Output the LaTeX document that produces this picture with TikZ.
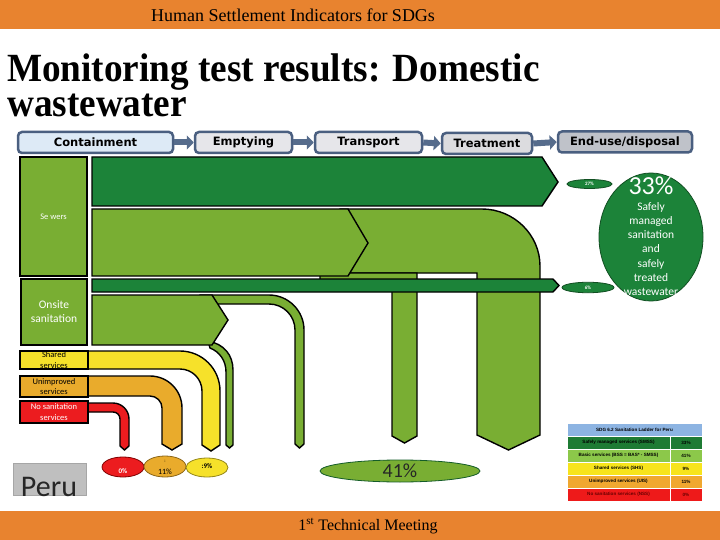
\documentclass[tikz,border=0pt]{standalone}
\usepackage{fontspec}
\setmainfont{Liberation Serif}
\newfontfamily\calib{Carlito}
\newfontfamily\verd{DejaVu Sans}
\newfontfamily\arl{Liberation Sans}
\usetikzlibrary{shapes.geometric,arrows.meta}
\definecolor{orangebar}{HTML}{E8832F}
\definecolor{dkgreen}{HTML}{1C8339}
\definecolor{ltgreen}{HTML}{79AE33}
\definecolor{yel}{HTML}{F6E12A}
\definecolor{amber}{HTML}{E9AB2C}
\definecolor{redc}{HTML}{EC1C1F}
\definecolor{hdrborder}{HTML}{4A5F80}
\definecolor{hdrarrow}{HTML}{566C8C}
\definecolor{hdrblue}{HTML}{DDEAF6}
\definecolor{hdrgray}{HTML}{E6E6EA}
\definecolor{hdrdark}{HTML}{BFC2C9}
\definecolor{lgblue}{HTML}{8DB4E2}
\definecolor{lggreen}{HTML}{1E7B34}
\definecolor{lglight}{HTML}{8CC84A}
\definecolor{lgyel}{HTML}{F7E41C}
\definecolor{lgorange}{HTML}{F0A830}
\definecolor{lgred}{HTML}{EE1A1A}
\begin{document}
\begin{tikzpicture}[x=1pt,y=-1pt,
  hdr/.style={draw=hdrborder, line width=2.5pt, rounded corners=4pt, inner sep=0pt,
    minimum height=21pt, font=\verd\bfseries\fontsize{11.5}{13}\selectfont},
  harrow/.style={draw=hdrarrow, line width=6pt, -{Triangle[length=7pt,width=14pt]}},
  flow/.style={draw=black, line width=1.4pt, line join=miter},
  lbl/.style={draw=black, line width=1.4pt, inner sep=0pt, align=center,
    font=\calib\fontsize{8.5}{10.5}\selectfont},
  ell/.style={ellipse, inner sep=0pt, line width=0.8pt},
  cell/.style={draw=white, line width=0.6pt, inner sep=0pt, minimum height=13pt,
    font=\arl\bfseries\fontsize{4.6}{5}\selectfont}
]
\useasboundingbox (0,0) rectangle (720,540);
\fill[white] (0,0) rectangle (720,540);
% bars
\fill[orangebar] (0,0) rectangle (720,29);
\fill[orangebar] (0,511) rectangle (720,540);
\node[font=\fontsize{18}{20}\selectfont] (hdrtxt) at (293,15) {Human Settlement Indicators for SDGs};
\node[font=\fontsize{16}{18}\selectfont] (foot) at (368,526) {1\textsuperscript{st} Technical Meeting};
% title
\node[anchor=base west, inner sep=0pt, font=\bfseries\fontsize{40}{40}\selectfont] (title) at (7,82)
  {\vtop{\baselineskip=34.5pt\lineskiplimit=-100pt
    \hbox{\scalebox{0.93}[1]{Monitoring test results: Domestic}}
    \hbox{\scalebox{0.93}[1]{wastewater}}}};
% header boxes
\node[hdr, fill=hdrblue, minimum width=155pt] (cont) at (95.5,142.5) {Containment};
\node[hdr, fill=hdrgray, minimum width=97pt] (empt) at (243.5,142.5) {Emptying};
\node[hdr, fill=hdrgray, minimum width=107pt] (trans) at (368.5,142.5) {Transport};
\node[hdr, fill=hdrgray!90!gray, minimum width=90pt] (treat) at (487,143.5) {Treatment};
\node[hdr, fill=hdrdark, minimum width=134pt] (enduse) at (625,142) {End-use/disposal};
\draw[harrow] (cont.east) -- (empt.west);
\draw[harrow] (empt.east) -- (trans.west);
\draw[harrow] (trans.east) -- (treat.west);
\draw[harrow] (treat.east) -- (enduse.west);
% big bent pipe (sewer to transport)
\draw[flow, fill=ltgreen] (340,209) -- (482,209) .. controls (513.5,209) and (540,234.5) .. (540,266)
  -- (540,435) -- (508.5,450) -- (477,435) -- (477,273) -- (340,273) -- cycle;
% L pipe to 41%
\draw[flow, fill=ltgreen] (320,273) -- (417,273) -- (417,436) -- (404.5,443) -- (392,436)
  -- (392,280) -- (320,280) -- cycle;
% sewer chevron
\draw[flow, fill=ltgreen] (92,209) -- (348,209) -- (368,243) -- (348,276) -- (92,276) -- cycle;
% dark green treated sewer arrow
\draw[flow, fill=dkgreen] (92,157) -- (542,157) -- (558,182) -- (542,206) -- (92,206) -- cycle;
% dark green 6% bar
\draw[flow, fill=dkgreen] (92,279) -- (553,279) -- (559,285.5) -- (553,292) -- (92,292) -- cycle;
% thin onsite pipe
\draw[flow, fill=ltgreen] (200,295) -- (269,295) .. controls (288.3,295) and (304,310.7) .. (304,330)
  -- (304,444) -- (299.5,448) -- (295,444) -- (295,330)
  .. controls (295,315.6) and (283.4,304) .. (269,304) -- (200,304) -- cycle;
% small curved pipe
\draw[flow, fill=ltgreen] (208,341) .. controls (224,344) and (233,355) .. (233,370) -- (233,445)
  -- (229.5,448) -- (226,445) -- (226,372) .. controls (226,361) and (220,352) .. (210,348) -- cycle;
% onsite chevron
\draw[flow, fill=ltgreen] (92,295) -- (212,295) -- (228,320) -- (212,345) -- (92,345) -- cycle;
% yellow pipe
\draw[flow, fill=yel] (86,351) -- (180,351) .. controls (202.1,351) and (220,368.9) .. (220,391)
  -- (220,445) -- (211,451) -- (202,445) -- (202,391)
  .. controls (202,378.9) and (192.1,369) .. (180,369) -- (86,369) -- cycle;
% amber pipe
\draw[flow, fill=amber] (86,376) -- (150,376) .. controls (167.7,376) and (182,390.3) .. (182,408)
  -- (182,444) -- (172,450) -- (162,444) -- (162,408)
  .. controls (162,401.4) and (156.6,396) .. (150,396) -- (86,396) -- cycle;
% red pipe
\draw[flow, fill=redc] (86,403) -- (113,403) .. controls (121.8,403) and (129,410.2) .. (129,419)
  -- (129,446) -- (124.5,450) -- (120,446) -- (120,419)
  .. controls (120,415.1) and (116.9,412) .. (113,412) -- (86,412) -- cycle;
% label boxes
\node[lbl, fill=ltgreen, text=white, minimum width=67pt, minimum height=119pt] (sew) at (53.5,216.5) {Se wers};
\node[lbl, fill=ltgreen, text=white, minimum width=66pt, minimum height=66pt,
  font=\calib\fontsize{11.5}{14}\selectfont] (onsite) at (54,312) {Onsite\\sanitation};
\node[lbl, fill=yel, text=black, minimum width=68pt, minimum height=18pt] (shared) at (54,360) {Shared\\services};
\node[lbl, fill=amber, text=black, minimum width=68pt, minimum height=21pt] (unimp) at (54,386.5) {Unimproved\\services};
\node[lbl, fill=redc, text=white, minimum width=68pt, minimum height=22pt] (nosan) at (54,412) {No sanitation\\services};
% bottom ellipses
\node[ell, draw=red!50!black, fill=redc, minimum width=42pt, minimum height=20pt] (e0) at (123,467) {};
\node[text=white, font=\calib\bfseries\fontsize{7}{8}\selectfont] (e0t) at (123,471) {0\%};
\node[ell, draw=amber!60!black, fill=amber, minimum width=42pt, minimum height=21pt] (e11) at (165,466.5) {};
\node[font=\calib\fontsize{5}{6}\selectfont] (e11c) at (165,461) {:};
\node[font=\calib\fontsize{8}{9}\selectfont] (e11t) at (165,471.5) {11\%};
\node[ell, draw=yel!60!black, fill=yel, minimum width=42pt, minimum height=19pt] (e9) at (207,467.5) {};
\node[font=\calib\bfseries\fontsize{7}{8}\selectfont] (e9t) at (207,466) {:9\%};
\node[ell, draw=dkgreen!70!black, fill=ltgreen, minimum width=160pt, minimum height=22pt,
  text=black!85, font=\calib\fontsize{20}{22}\selectfont] (e41) at (400,471) {41\%};
% right ellipses
\node[ell, draw=dkgreen!60!black, fill=dkgreen, minimum width=45pt, minimum height=9pt,
  text=white, font=\calib\bfseries\fontsize{5}{6}\selectfont] (e27) at (589.5,184) {27\%};
\node[ell, draw=dkgreen!60!black, fill=dkgreen, minimum width=52pt, minimum height=10.5pt,
  text=white, font=\calib\bfseries\fontsize{5}{6}\selectfont] (e6) at (588,287.5) {6\%};
\node[ell, draw=dkgreen!60!black, fill=dkgreen, minimum width=104pt, minimum height=128pt] (e33) at (651,237) {};
\node[text=white, font=\calib\fontsize{26}{28}\selectfont] (e33a) at (651,186) {33\%};
\node[text=white, align=center, font=\calib\fontsize{11.5}{14.3}\selectfont] (e33b) at (651,249)
  {Safely\\managed\\sanitation\\and\\safely\\treated\\wastewater};
% Peru
\node[draw=gray!70, fill=gray!50, line width=0.6pt, minimum width=73pt, minimum height=32pt, inner sep=0pt] (peru) at (49.5,479) {};
\node[anchor=base, inner sep=0pt, text=black!85, font=\calib\fontsize{30}{30}\selectfont] (perut) at (49,496) {Peru};
% legend table
\node[cell, fill=lgblue, minimum width=135pt] (lh) at (634.5,429.5) {SDG 6.2 Sanitation Ladder for Peru};
\node[cell, fill=lggreen, minimum width=103pt] (l1a) at (618.5,442.5) {Safely managed services (SMSS)};
\node[cell, fill=lggreen, minimum width=32pt] (l1b) at (686,442.5) {33\%};
\node[cell, fill=lglight, minimum width=103pt] (l2a) at (618.5,455.5) {Basic services (BSS = BAS* - SMSS)};
\node[cell, fill=lglight, minimum width=32pt] (l2b) at (686,455.5) {41\%};
\node[cell, fill=lgyel, minimum width=103pt] (l3a) at (618.5,468.5) {Shared services (SHS)};
\node[cell, fill=lgyel, minimum width=32pt] (l3b) at (686,468.5) {9\%};
\node[cell, fill=lgorange, minimum width=103pt] (l4a) at (618.5,481.5) {Unimproved services (UIS)};
\node[cell, fill=lgorange, minimum width=32pt] (l4b) at (686,481.5) {11\%};
\node[cell, fill=lgred, text=red!40!black, minimum width=103pt] (l5a) at (618.5,494.5) {No sanitation services (NSS)};
\node[cell, fill=lgred, text=red!40!black, minimum width=32pt] (l5b) at (686,494.5) {0\%};
\end{tikzpicture}
\end{document}
